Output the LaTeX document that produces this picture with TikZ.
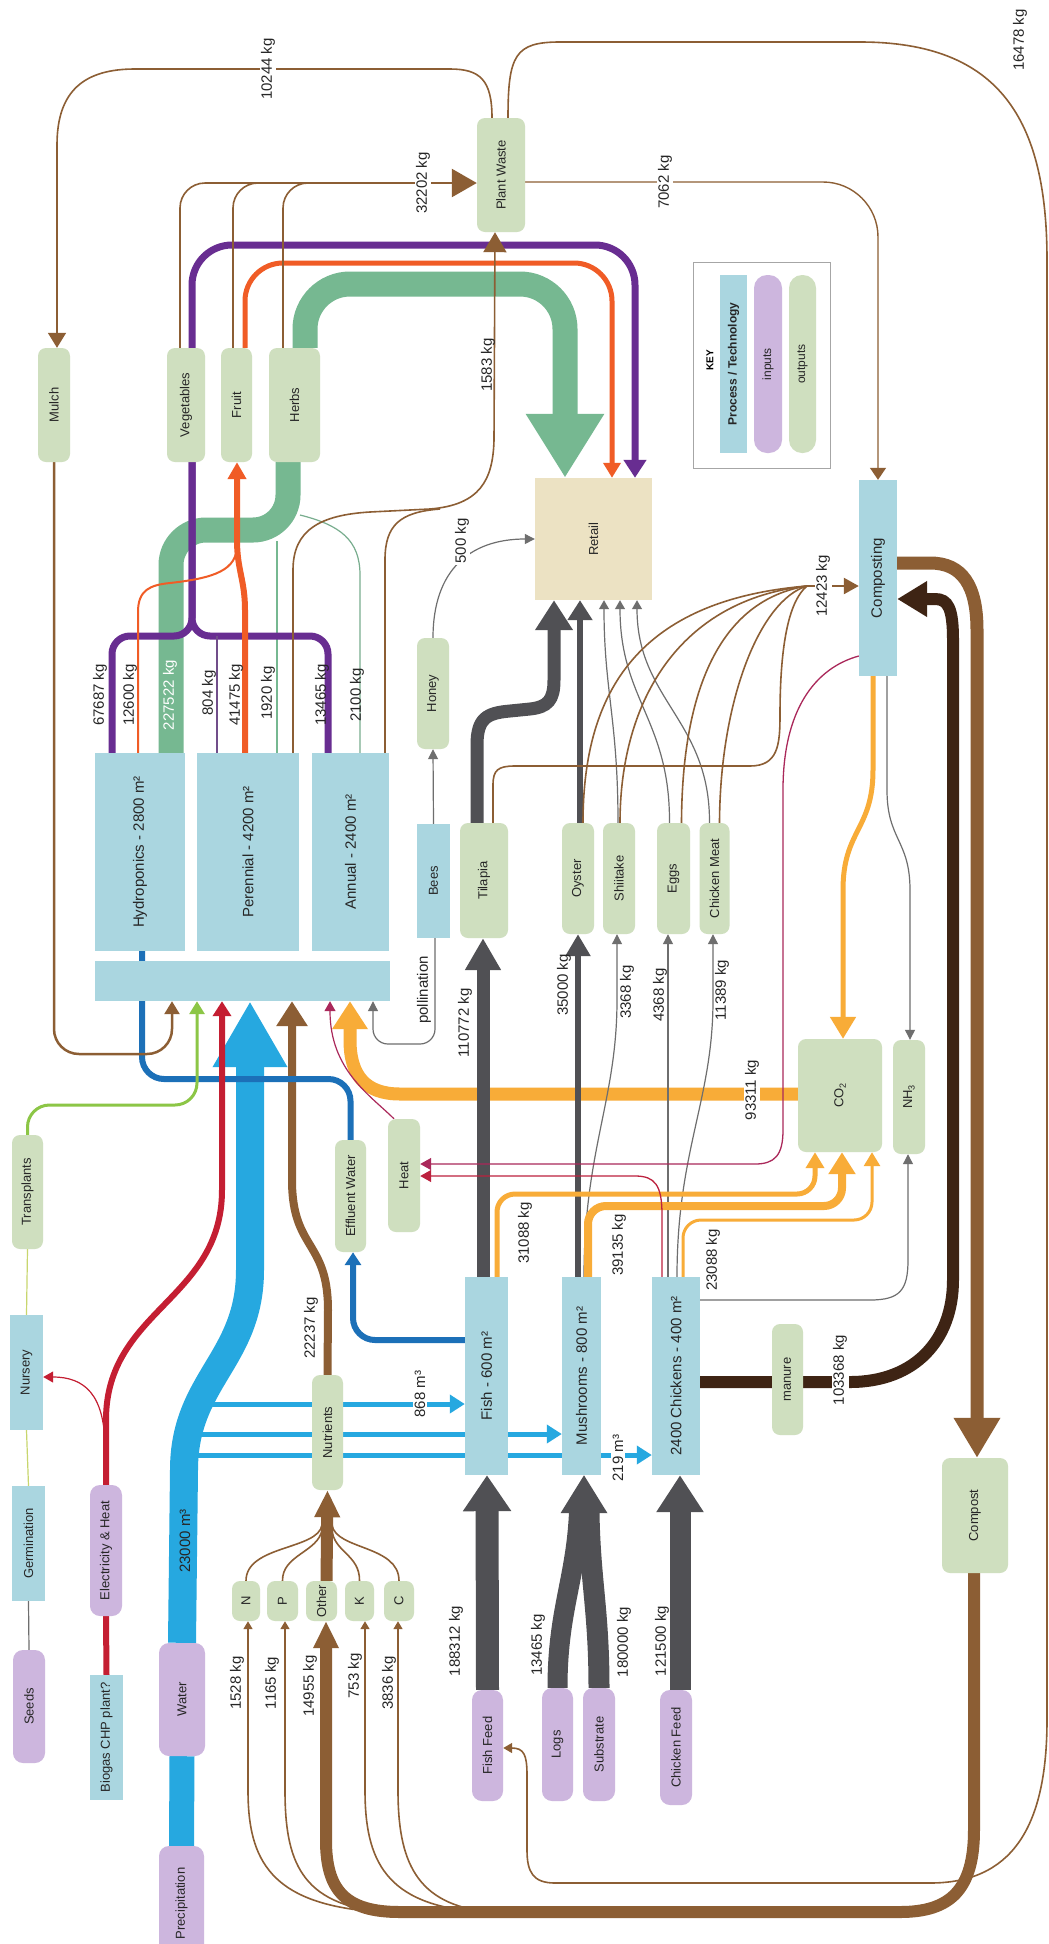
\documentclass[tikz,border=0pt]{standalone}
\usepackage{fontspec}
\setmainfont{Liberation Sans}
\usetikzlibrary{arrows.meta}
\pgfdeclarelayer{background}
\pgfsetlayers{background,main}

\definecolor{procblue}{RGB}{170,214,224}
\definecolor{outgreen}{RGB}{207,223,191}
\definecolor{inpurple}{RGB}{205,182,222}
\definecolor{retailtan}{RGB}{236,226,195}
\definecolor{vegpurple}{RGB}{104,45,145}
\definecolor{fruitred}{RGB}{240,92,38}
\definecolor{herbgreen}{RGB}{118,184,145}
\definecolor{wastebrown}{RGB}{140,94,52}
\definecolor{manurebrown}{RGB}{62,36,20}
\definecolor{flowgray}{RGB}{80,80,84}
\definecolor{gasorange}{RGB}{248,172,56}
\definecolor{waterblue}{RGB}{38,168,224}
\definecolor{effblue}{RGB}{28,112,184}
\definecolor{powerred}{RGB}{196,30,50}
\definecolor{sprout}{RGB}{140,198,70}
\definecolor{heatpink}{RGB}{170,40,90}
\definecolor{stemgreen}{RGB}{200,214,110}
\definecolor{thingray}{RGB}{110,110,110}

\newcommand{\vt}[1]{\rotatebox{90}{#1}}
\newcommand{\chemsub}[1]{\raisebox{-2.5pt}{\fontsize{9}{9}\selectfont #1}}

\tikzset{
  box/.style={inner sep=0pt, text=black!85, font=\fontsize{13}{15}\selectfont},
  proc/.style={box, fill=procblue},
  outp/.style={box, fill=outgreen, rounded corners=8pt},
  inp/.style={box, fill=inpurple, rounded corners=10pt},
  big/.style={font=\fontsize{15}{17}\selectfont},
  sz/.style 2 args={minimum width=#1pt, minimum height=#2pt},
  lbl/.style={rotate=90, inner sep=1.5pt, text=black!85, font=\fontsize{15}{17}\selectfont},
  lblw/.style={lbl, fill=white},
  arr/.style 2 args={-{Triangle[width=#1pt,length=#2pt]}},
  brownthin/.style={draw=wastebrown, line width=1.6pt},
  grayline/.style={draw=thingray, line width=1.2pt},
}

\begin{document}
\begin{tikzpicture}[x=1pt, y=-1pt]
\useasboundingbox (0,0) rectangle (1049,1944);

% outputs along the top
\node[outp, sz={48}{114}] (pw) at (501,175) {\vt{Plant Waste}};
\node[outp, sz={32}{114}] (mulch) at (54,405) {\vt{Mulch}};
\node[outp, sz={38}{114}] (veg) at (186,405) {\vt{Vegetables}};
\node[outp, sz={31}{114}] (fruit) at (236.5,405) {\vt{Fruit}};
\node[outp, sz={51}{114}] (herbs) at (294.5,405) {\vt{Herbs}};
\node[box, fill=retailtan, sz={117}{122}] (retail) at (593.5,539) {\vt{Retail}};
\node[proc, big, sz={38}{196}] (cmpst) at (878,578) {\vt{Composting}};

% key
\node[draw=black!35, line width=0.8pt, sz={137}{206}] (key) at (761.5,365) {};
\node[rotate=90, font=\bfseries\fontsize{10}{12}\selectfont] (keyt) at (710,360) {KEY};
\node[proc, sz={27}{178}, font=\bfseries\fontsize{12}{14}\selectfont] (keyp) at (733.5,364) {\vt{Process / Technology}};
\node[inp, rounded corners=13pt, sz={28}{178}, font=\fontsize{12}{14}\selectfont] (keyi) at (768,364) {\vt{inputs}};
\node[outp, rounded corners=13pt, sz={27}{178}, font=\fontsize{12}{14}\selectfont] (keyo) at (802.5,364) {\vt{outputs}};

% growing areas
\node[proc, big, sz={90}{198}] (hydro) at (140,852) {\vt{Hydroponics - 2800 m²}};
\node[proc, big, sz={102}{198}] (peren) at (248,852) {\vt{Perennial - 4200 m²}};
\node[proc, big, sz={77}{198}] (annual) at (350.5,852) {\vt{Annual - 2400 m²}};
\node[proc, sz={295}{40}] (bed) at (242.5,981) {};

% animal / fungi products
\node[proc, sz={33}{114}] (bees) at (433.5,881) {\vt{Bees}};
\node[outp, sz={32}{111}] (honey) at (433,693.5) {\vt{Honey}};
\node[outp, sz={48}{115}] (tilapia) at (484,880.5) {\vt{Tilapia}};
\node[outp, sz={32}{111}] (oyster) at (578,878.5) {\vt{Oyster}};
\node[outp, sz={32}{111}] (shiitake) at (619,878.5) {\vt{Shiitake}};
\node[outp, sz={33}{111}] (eggs) at (673.5,878.5) {\vt{Eggs}};
\node[outp, sz={30}{111}] (meat) at (714.5,878.5) {\vt{Chicken Meat}};

\node[outp, sz={32}{113}] (heat) at (404,1175.5) {\vt{Heat}};
\node[outp, sz={31}{112}] (effl) at (350.5,1196) {\vt{Effluent Water}};
\node[outp, sz={84}{113}] (co2) at (840,1095.5) {\vt{CO\chemsub{2}}};
\node[outp, sz={32}{114}] (nh3) at (909,1097) {\vt{NH\chemsub{3}}};

\node[outp, sz={31}{114}] (transp) at (27.5,1192) {\vt{Transplants}};
\node[proc, sz={33}{115}] (nursery) at (26.5,1372.5) {\vt{Nursery}};
\node[outp, sz={31}{115}] (nutr) at (327.5,1432.5) {\vt{Nutrients}};
\node[proc, big, sz={43}{198}] (fish) at (486.5,1376) {\vt{Fish - 600 m²}};
\node[proc, big, sz={39}{198}] (mush) at (581.5,1376) {\vt{Mushrooms - 800 m²}};
\node[proc, big, sz={48}{198}] (chick) at (676,1376) {\vt{2400 Chickens - 400 m²}};
\node[outp, sz={31}{111}] (manure) at (787.5,1379.5) {\vt{manure}};
\node[outp, sz={66}{115}] (compost) at (975,1515.5) {\vt{Compost}};

% inputs along the bottom
\node[proc, sz={33}{115}] (germ) at (28.5,1543.5) {\vt{Germination}};
\node[inp, sz={32}{131}] (eheat) at (106,1550.5) {\vt{Electricity \& Heat}};
\node[outp, sz={28}{40}] (nN) at (246,1601) {\vt{N}};
\node[outp, sz={31}{40}] (nP) at (282.5,1601) {\vt{P}};
\node[outp, sz={31}{40}] (nOther) at (321.5,1601) {\vt{Other}};
\node[outp, sz={29}{40}] (nK) at (359.5,1601) {\vt{K}};
\node[outp, sz={30}{40}] (nC) at (399,1601) {\vt{C}};
\node[inp, sz={32}{113}] (seeds) at (29,1706.5) {\vt{Seeds}};
\node[inp, sz={46}{113}] (water) at (182,1699.5) {\vt{Water}};
\node[proc, sz={33}{125}] (biogas) at (106.5,1737.5) {\vt{Biogas CHP plant?}};
\node[inp, sz={31}{111}] (fishfeed) at (487.5,1745.5) {\vt{Fish Feed}};
\node[inp, sz={31}{113}] (logs) at (557.5,1744.5) {\vt{Logs}};
\node[inp, sz={32}{113}] (substr) at (599,1744.5) {\vt{Substrate}};
\node[inp, sz={32}{115}] (chfeed) at (676,1747.5) {\vt{Chicken Feed}};
\node[inp, sz={45}{115}] (precip) at (181.5,1903.5) {\vt{Precipitation}};

\coordinate (cj) at (807,586);

\begin{pgfonlayer}{background}
\fill[white] (0,0) rectangle (1049,1944);
% water and gas bands first
\draw[waterblue, line width=25pt] (precip.north) -- (water.south);
\draw[waterblue, line width=28pt, arr={70}{66}] (water.north) -- (184,1470) .. controls (184,1380) and (250,1360) .. (250,1270) -- (bed.south -| 250,0);
\draw[waterblue, line width=5pt, arr={18}{15}] (205,1404) -- (fish.west |- 0,1404);
\draw[waterblue, line width=5pt, arr={18}{15}] (198,1434) -- (mush.west |- 0,1434);
\draw[waterblue, line width=5pt, arr={18}{15}] (195,1455) -- (chick.west |- 0,1455);
\draw[gasorange, line width=13pt, arr={34}{28}] (co2.west |- 0,1094) -- (400,1094) .. controls (365,1094) and (350,1075) .. (350,1040) -- (bed.south -| 350,0);

% herbs band and crop flows
\draw[herbgreen, line width=25pt, rounded corners=35pt] ([xshift=31pt]hydro.north) |- (288,530) -- ([xshift=-6.5pt]herbs.south);
\draw[herbgreen, line width=25pt, rounded corners=45pt, arr={74}{64}] ([xshift=10.5pt]herbs.north) |- (565,284) -- (retail.north -| 565,0);
\draw[herbgreen, line width=1.2pt] ([xshift=29pt]peren.north) -- (277,541);
\draw[herbgreen!80!gray, line width=1.2pt] ([xshift=9.5pt]annual.north) -- (360,575) .. controls (360,540) and (340,525) .. (300,515);
\draw[vegpurple, line width=7pt, rounded corners=18pt] ([xshift=-28pt]hydro.north) |- (192,636) -- ([xshift=6pt]veg.south);
\draw[vegpurple, line width=7pt, rounded corners=18pt] ([xshift=-22.5pt]annual.north) |- (192,636) -- ([xshift=6pt]veg.south);
\draw[vegpurple!60!gray, line width=1.2pt] ([xshift=-31pt]peren.north) -- (217,636);
\draw[vegpurple, line width=7pt, rounded corners=40pt, arr={22}{18}] ([xshift=6pt]veg.north) |- (635,245) -- (retail.north -| 635,0);
\draw[fruitred, line width=2pt] ([xshift=-2pt]hydro.north) -- (138,612) .. controls (138,590) and (150,585) .. (170,583) .. controls (215,578) and (237,570) .. (237,545);
\draw[fruitred, line width=6pt, arr={18}{17}] ([xshift=-3pt]peren.north) -- (245,610) .. controls (245,580) and (237,570) .. (237,540) -- ([xshift=0.5pt]fruit.south);
\draw[fruitred, line width=5pt, rounded corners=38pt, arr={17}{15}] ([xshift=8.5pt]fruit.north) |- (612,263) -- (retail.north -| 612,0);

% plant waste
\draw[brownthin, rounded corners=25pt] ([xshift=-6pt]veg.north) |- (400,183);
\draw[brownthin, rounded corners=25pt] ([xshift=-3.5pt]fruit.north) |- (400,183);
\draw[brownthin, rounded corners=25pt] ([xshift=-11.5pt]herbs.north) |- (400,183);
\draw[wastebrown, line width=2.5pt, arr={28}{25}] (395,183) -- (pw.west |- 0,183);
\draw[brownthin, arr={23}{20}] ([xshift=45pt]peren.north) -- (293,570) .. controls (293,530) and (320,515) .. (370,512) -- (430,509) .. controls (480,505) and (493,480) .. (494,440) -- (pw.south -| 495,0);
\draw[brownthin] ([xshift=34.5pt]annual.north) -- (385,560) .. controls (385,525) and (400,512) .. (440,509);
\draw[brownthin, arr={18}{15}] ([xshift=-9pt]pw.north) .. controls (492,80) and (480,69) .. (450,69) -- (135,69) .. controls (85,69) and (57,90) .. (57,145) -- ([xshift=3pt]mulch.north);
\draw[brownthin, arr={10}{9}] ([xshift=7pt]pw.north) .. controls (508,55) and (515,42) .. (560,42) -- (860,42) .. controls (1000,42) and (1047,120) .. (1047,260) -- (1047,1720) .. controls (1047,1830) and (1010,1883) .. (930,1883) -- (555,1883) .. controls (533,1883) and (527,1872) .. (527,1850) -- (527,1775) .. controls (527,1755) and (524,1748) .. (fishfeed.east |- 0,1748);
\draw[wastebrown, line width=1.4pt, rounded corners=55pt, arr={16}{12}] (pw.east |- 0,182) -| (cmpst.north);

% bees and honey
\draw[grayline, arr={10}{10}] (bees.north) -- (honey.south);
\draw[grayline, arr={10}{10}] (honey.north) .. controls (433,570) and (470,539) .. (retail.west);
\draw[grayline, rounded corners=15pt, arr={10}{10}] ([xshift=1.5pt]bees.south) |- (373,1044) -- (bed.south -| 373,0);

% fish, mushrooms, chickens to products
\draw[flowgray, line width=13pt, arr={34}{32}] ([xshift=-3.5pt]fish.north) -- (tilapia.south -| 483,0);
\draw[flowgray, line width=13pt, arr={36}{30}] ([xshift=-7pt]tilapia.north) -- (477,745) .. controls (477,718) and (487,713) .. (510,711) -- (530,709) .. controls (548,707) and (554,700) .. (554,680) -- (retail.south -| 554,0);
\draw[flowgray, line width=6pt, arr={24}{22}] ([xshift=-3.5pt]mush.north) -- (oyster.south -| 578,0);
\draw[flowgray, line width=6pt, arr={24}{20}] ([xshift=2pt]oyster.north) -- (retail.south -| 580,0);
\draw[grayline, arr={10}{10}] ([xshift=2.5pt]mush.north) .. controls (584,1150) and (617,1100) .. (617,1000) -- (shiitake.south -| 617,0);
\draw[grayline, arr={10}{10}] ([xshift=-8pt]chick.north) -- (eggs.south -| 668,0);
\draw[grayline, arr={10}{10}] ([xshift=1pt]chick.north) .. controls (677,1150) and (713,1100) .. (713,1000) -- (meat.south -| 713,0);
\draw[grayline, arr={10}{9}] ([xshift=-1pt]shiitake.north) .. controls (618,720) and (604,690) .. (retail.south -| 604,0);
\draw[grayline, arr={10}{9}] ([xshift=-4pt]eggs.north) .. controls (670,720) and (620,700) .. (retail.south -| 620,0);
\draw[grayline, arr={10}{9}] ([xshift=-5pt]meat.north) .. controls (710,720) and (637,700) .. (retail.south -| 637,0);

% residues to composting
\draw[brownthin] ([xshift=9pt]tilapia.north) -- (493,785) .. controls (493,770) and (498,766) .. (515,766) -- (750,766) .. controls (778,766) and (780,745) .. (780,715) .. controls (780,640) and (790,600) .. (cj);
\draw[brownthin] ([xshift=5pt]oyster.north) .. controls (583,690) and (640,600) .. (cj);
\draw[brownthin] ([xshift=1pt]shiitake.north) .. controls (620,700) and (680,600) .. (cj);
\draw[brownthin] ([xshift=8pt]eggs.north) .. controls (682,690) and (720,600) .. (cj);
\draw[brownthin] ([xshift=5pt]meat.north) .. controls (720,700) and (760,600) .. (cj);
\draw[wastebrown, line width=2.5pt, arr={16}{15}] (cj) -- (cmpst.west |- cj);

% gases
\draw[gasorange, line width=5pt, rounded corners=18pt, arr={18}{16}] ([xshift=10.5pt]fish.north) |- (815,1194) -- (co2.south -| 815,0);
\draw[gasorange, line width=8pt, rounded corners=18pt, arr={26}{22}] ([xshift=6.5pt]mush.north) |- (842,1206) -- (co2.south -| 842,0);
\draw[gasorange, line width=3pt, rounded corners=18pt, arr={16}{14}] ([xshift=7pt]chick.north) |- (872,1220) -- (co2.south -| 872,0);
\draw[gasorange, line width=5pt, arr={25}{22}] ([xshift=-5pt]cmpst.south) -- (873,770) .. controls (873,830) and (843,830) .. (843,890) -- (co2.north -| 843,0);
\draw[grayline, arr={10}{10}] ([xshift=9pt]cmpst.south) -- (887,790) .. controls (887,840) and (910,840) .. (910,890) -- (nh3.north -| 910,0);
\draw[grayline, arr={10}{10}] (chick.east |- 0,1300) -- (870,1300) .. controls (900,1300) and (908,1290) .. (908,1260) -- (nh3.south -| 908,0);

% heat
\draw[heatpink, line width=1.3pt, arr={12}{11}] (cmpst.west |- 0,656) .. controls (815,668) and (783,710) .. (783,790) -- (783,1130) .. controls (783,1155) and (775,1164) .. (755,1164) -- (heat.east |- 0,1164);
\draw[powerred!70!heatpink, line width=1.3pt, arr={12}{11}] ([xshift=-14pt]chick.north) -- (662,1215) .. controls (662,1185) and (655,1176) .. (635,1176) -- (heat.east |- 0,1176);
\draw[heatpink, line width=1.2pt, arr={11}{10}] ([xshift=-10pt]heat.north) .. controls (370,1095) and (330,1070) .. (bed.south -| 330,0);

% manure and compost loop
\draw[manurebrown, line width=12pt, arr={34}{30}] (chick.east |- 0,1382) -- (850,1382) .. controls (915,1382) and (953,1340) .. (953,1280) -- (953,640) .. controls (953,608) and (948,599) .. (935,599) -- (cmpst.east |- 0,599);
\draw[wastebrown, line width=13pt, arr={44}{40}] (cmpst.east |- 0,563) -- (930,563) .. controls (962,563) and (977,585) .. (977,630) -- (compost.north -| 977,0);
\draw[wastebrown, line width=12pt, arr={24}{27}] ([xshift=-1pt]compost.south) -- (974,1830) .. controls (974,1890) and (950,1912) .. (900,1912) -- (400,1912) .. controls (345,1912) and (326,1890) .. (326,1840) -- (nOther.south -| 326,0);
\draw[brownthin, arr={9}{8}] (380,1912) .. controls (270,1905) and (248,1860) .. (248,1790) -- ([xshift=2pt]nN.south);
\draw[brownthin, arr={9}{8}] (385,1912) .. controls (300,1905) and (285,1860) .. (285,1790) -- ([xshift=2.5pt]nP.south);
\draw[brownthin, arr={9}{8}] (480,1912) .. controls (385,1905) and (365,1860) .. (365,1790) -- ([xshift=5.5pt]nK.south);
\draw[brownthin, arr={9}{8}] (490,1912) .. controls (415,1905) and (398,1860) .. (398,1790) -- ([xshift=-1pt]nC.south);

% nutrients
\draw[wastebrown, line width=12pt, arr={24}{27}] ([xshift=5pt]nOther.north) -- (nutr.south);
\draw[brownthin] (nN.north) .. controls (246,1545) and (318,1550) .. (322,1525);
\draw[brownthin] (nP.north) .. controls (282,1555) and (318,1552) .. (322,1530);
\draw[brownthin] (nK.north) .. controls (360,1555) and (334,1552) .. (332,1530);
\draw[brownthin] (nC.north) .. controls (399,1545) and (336,1550) .. (332,1525);
\draw[wastebrown, line width=8pt, arr={30}{25}] (nutr.north) -- (328,1310) .. controls (328,1240) and (292,1250) .. (292,1180) -- (bed.south -| 292,0);

% effluent water
\draw[effblue, line width=6pt, rounded corners=22pt, arr={16}{13}] (fish.west |- 0,1340) -| (effl.south -| 353,0);
\draw[effblue, line width=6pt, rounded corners=22pt] (effl.north) |- (142,1079) -- ([xshift=2pt]hydro.south);

% nursery chain, mulch and power
\draw[brownthin, line width=2.5pt, rounded corners=25pt, arr={15}{13}] (mulch.south) |- (172,1054) -- (bed.south -| 172,0);
\draw[sprout, line width=3pt, rounded corners=22pt, arr={15}{13}] (transp.north) |- (197,1105) -- (bed.south -| 197,0);
\draw[thingray, line width=1.2pt] (seeds.north) -- (germ.south);
\draw[stemgreen, line width=1.2pt] (germ.north) -- (nursery.south);
\draw[stemgreen, line width=1.2pt] (nursery.north) -- (transp.south);
\draw[powerred, line width=6pt] (biogas.north) -- (eheat.south);
\draw[powerred, line width=6pt, arr={18}{15}] (eheat.north) -- (106,1420) .. controls (106,1310) and (222,1300) .. (222,1190) -- (bed.south -| 222,0);
\draw[powerred, line width=1.2pt, arr={11}{10}] (105,1445) .. controls (104,1395) and (85,1377) .. (nursery.east |- 0,1377);

% feeds
\draw[flowgray, line width=23pt, arr={46}{36}] (fishfeed.north) -- (fish.south -| 487,0);
\draw[flowgray, line width=20pt] (logs.north) .. controls (557.5,1610) and (576,1580) .. (579,1512);
\draw[flowgray, line width=21pt] (substr.north) .. controls (599,1610) and (590,1580) .. (589,1512);
\draw[flowgray, line width=4pt, arr={46}{38}] (584,1515) -- (mush.south -| 584,0);
\draw[flowgray, line width=21pt, arr={45}{37}] ([xshift=4pt]chfeed.north) -- (chick.south -| 680,0);
\end{pgfonlayer}

% flow labels
\node[lblw] at (268,69) {10244 kg};
\node[lblw] at (1020,40) {16478 kg};
\node[lblw] at (423,183) {32202 kg};
\node[lblw] at (665,182) {7062 kg};
\node[lbl] at (488,365) {1583 kg};
\node[lbl] at (100,695) {67687 kg};
\node[lbl] at (130,695) {12600 kg};
\node[lbl, text=white] at (170,695) {227522 kg};
\node[lbl] at (209,693) {804 kg};
\node[lbl] at (236,695) {41475 kg};
\node[lbl] at (268,693) {1920 kg};
\node[lbl] at (322,695) {13465 kg};
\node[lbl] at (357,695) {2100 kg};
\node[lblw] at (462,541) {500 kg};
\node[lblw] at (823,586) {12423 kg};
\node[lbl] at (424,990) {pollination};
\node[lbl] at (465,1023) {110772 kg};
\node[lbl] at (564,985) {35000 kg};
\node[lbl] at (627,992) {3368 kg};
\node[lbl] at (660,995) {4368 kg};
\node[lbl] at (722,990) {11389 kg};
\node[lblw] at (752,1090) {93311 kg};
\node[lbl] at (525,1233) {31088 kg};
\node[lbl] at (619,1245) {39135 kg};
\node[lbl] at (713,1260) {23088 kg};
\node[lbl] at (311,1328) {22237 kg};
\node[lblw] at (420,1394) {868 m³};
\node[lblw] at (618,1458) {219 m³};
\node[lblw] at (840,1370) {103368 kg};
\node[lbl] at (185,1541) {23000 m³};
\node[lbl] at (237,1683) {1528 kg};
\node[lbl] at (272,1683) {1165 kg};
\node[lbl] at (310,1686) {14955 kg};
\node[lbl] at (355,1676) {753 kg};
\node[lbl] at (389,1683) {3836 kg};
\node[lbl] at (456,1641) {188312 kg};
\node[lbl] at (538,1645) {13465 kg};
\node[lbl] at (624,1642) {180000 kg};
\node[lbl] at (662,1641) {121500 kg};
\end{tikzpicture}
\end{document}
